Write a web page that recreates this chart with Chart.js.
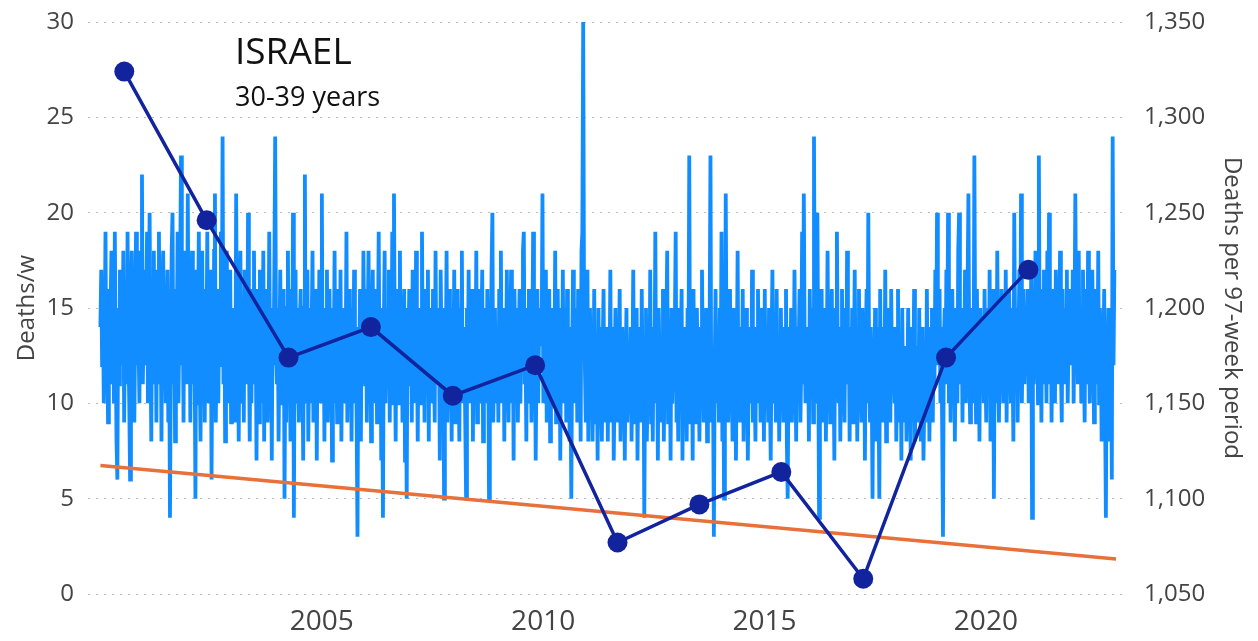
<!DOCTYPE html>
<html>
<head>
<meta charset="utf-8">
<script src="https://cdn.jsdelivr.net/npm/chart.js@4"></script>
<style>
  body { margin: 0; background: #fff; }
  #wrap { width: 1258px; height: 641px; position: relative; }
</style>
</head>
<body>
<div id="wrap"><canvas id="chart"></canvas></div>
<script>
// weekly deaths, ages 30-39, one row per ~year starting Jan 2000
const weeklyDeaths = [
  14,17,12,15,10,13,19,11,14,9,16,12,15, 18,11,14,10,19,13,8,6,15,11,17,13,16, 12,18,9,14,16,11,19,13,10,6,15,18,12, 16,9,14,19,12,17,13,10,18,15,22,11,14,
  17,12,15,19,10,14,20,13,8,16,12,18,11, 15,9,17,13,19,11,14,8,16,18,12,15,10, 13,17,9,14,4,12,18,20,11,15,8,16,13, 19,10,14,17,23,12,15,9,18,13,16,11,21,
  12,16,9,14,18,11,15,13,5,17,10,14,19, 12,8,15,18,11,14,9,16,13,19,10,15,12, 17,6,14,11,18,21,9,13,16,10,15,12,19, 13,24,11,16,8,14,18,10,15,12,17,9,14,
  15,11,13,9,21,12,16,8,14,18,10,13,15, 9,17,12,14,11,20,13,8,15,10,16,12,18, 11,14,7,16,13,9,17,12,15,10,18,8,14, 13,16,9,12,19,11,14,7,15,12,17,24,13,
  11,15,8,13,17,10,14,12,16,5,13,9,15, 18,11,14,8,16,12,20,4,13,17,10,15,12, 9,14,16,11,13,7,15,22,10,13,17,8,12, 15,10,14,18,9,13,11,16,7,14,12,17,10,
  13,21,10,15,8,14,12,17,9,13,16,11,14, 7,15,12,18,10,13,9,16,14,11,17,8,13, 15,10,14,12,19,9,13,16,11,14,8,15,12, 17,10,13,9,3,14,12,16,8,15,11,18,13,
  11,16,9,14,18,12,15,8,13,17,10,14,12, 16,9,13,19,11,15,7,12,4,14,18,10,13, 15,11,17,9,14,12,19,10,21,13,8,16,12, 14,10,18,11,15,9,13,16,7,12,5,15,13,
  16,11,14,9,17,12,15,10,18,13,8,14,12, 15,10,19,12,14,9,16,11,13,17,8,15,12, 14,10,16,13,9,18,11,15,12,14,7,17,13, 10,15,5,14,12,18,9,13,16,11,14,8,15,
  12,17,9,14,11,16,13,8,15,12,18,10,14, 13,9,5,15,12,17,10,14,11,16,8,13,15, 11,18,9,14,12,16,10,13,17,8,15,12,14, 10,16,13,5,14,11,17,20,9,12,15,10,13,
  14,9,16,12,18,10,13,15,8,14,11,17,12, 9,15,13,17,10,14,7,16,12,11,15,9,13, 16,10,14,12,18,19,11,13,8,15,12,16,10, 14,9,13,19,11,15,7,12,16,10,14,13,15,
  13,21,10,15,12,17,9,14,11,16,8,13,15, 10,14,12,18,9,13,16,11,15,7,14,12,17, 10,13,15,9,16,12,14,8,11,5,13,17,10, 15,12,14,9,16,11,13,8,18,19,30,15,12,
  9,13,17,8,12,15,10,14,8,11,16,9,13, 12,7,15,10,14,11,8,13,16,9,12,10,14, 8,13,11,17,9,12,14,7,11,15,10,13,9, 12,16,8,11,14,10,13,7,12,15,9,11,13,
  10,14,8,12,17,9,13,11,15,7,12,10,14, 9,16,11,13,4,12,15,8,11,14,10,17,9, 12,8,14,11,19,10,13,7,15,12,9,13,11, 16,8,12,10,14,18,9,11,13,7,15,10,12,
  11,14,19,9,12,8,15,10,13,16,7,12,14, 10,13,8,15,11,23,9,12,14,7,16,10,13, 9,15,11,12,8,14,10,17,12,9,13,11,15, 8,12,10,14,23,9,13,11,3,12,16,10,14,
  12,9,15,11,19,8,13,5,10,21,12,14,9, 13,16,10,12,8,15,11,14,7,12,18,10,13, 9,14,11,16,8,12,10,15,13,7,11,14,12, 10,17,9,13,11,8,14,12,16,10,13,9,15,
  11,13,8,16,10,14,12,9,15,11,7,13,17, 10,12,14,9,16,11,13,8,12,15,10,14,9, 13,11,16,8,5,12,14,10,15,9,13,11,17, 12,8,14,10,13,16,9,12,19,11,21,13,10,
  14,10,13,8,16,12,11,15,9,24,13,10,17, 20,12,4,14,11,16,9,13,10,15,8,12,18, 11,14,9,13,16,10,12,7,15,11,19,13,10, 14,8,12,16,10,13,9,15,11,18,12,14,8,
  13,10,15,9,12,17,11,14,8,13,16,10,12, 9,15,11,14,7,13,16,10,20,12,9,14,11, 5,13,10,15,8,12,14,11,5,16,10,13,9, 14,11,17,8,12,10,15,13,9,16,11,14,12,
  10,14,8,12,16,9,11,13,7,15,10,12,9, 13,8,11,15,10,12,7,14,9,11,16,8,12, 10,13,9,15,11,8,12,14,7,10,13,9,16, 11,14,8,12,10,15,9,13,11,17,12,20,14,
  12,16,10,14,9,3,13,15,11,17,12,20,10, 14,9,13,16,11,15,8,12,14,10,18,20,13, 11,15,9,14,12,17,10,13,16,21,12,9,14, 11,15,10,23,13,9,16,12,14,8,15,11,13,
  14,10,16,12,9,15,13,11,17,8,14,12,16, 5,13,15,10,18,12,9,14,11,16,13,10,15, 12,17,9,14,11,16,13,10,15,12,8,20,14, 11,15,9,13,17,12,21,10,14,16,11,13,15,
  13,16,10,14,12,17,4,15,11,13,18,12,14, 10,23,13,16,9,15,12,17,11,14,10,18,13, 20,11,15,9,14,16,12,10,17,13,15,11,14, 18,12,9,16,13,15,11,14,17,10,13,16,12,
  15,12,17,10,14,21,13,16,11,18,12,15,10, 14,17,12,9,16,13,11,18,14,10,15,12,17, 13,9,16,12,14,11,18,10,15,13,8,14,12, 16,10,4,13,11,15,8,12,14,6,24,12,17
];
const firstWeek = 2000.0;            // decimal year of first weekly value
const weekInYears = 7 / 365.25;

// totals per 97-week period (right axis), placed at decimal years
const periodYears = [2000.54, 2002.40, 2004.25, 2006.11, 2007.96, 2009.82, 2011.68, 2013.53, 2015.38, 2017.23, 2019.10, 2020.96];
const periodDeaths = [1324, 1246, 1174, 1190, 1154, 1170, 1077, 1097, 1114, 1058, 1174, 1220];

// linear trend of weekly deaths
const trendYears = [2000.0, 2022.94];
const trendValues = [6.74, 1.84];

const yearTicks = [2005, 2010, 2015, 2020];

const FONT = '"Open Sans", "Noto Sans", sans-serif';
const TEXT = '#444';

const titles = {
    id: 'titles',
    afterDraw(chart) {
        const ctx = chart.ctx;
        ctx.save();
        ctx.fillStyle = '#111';
        ctx.textBaseline = 'alphabetic';
        ctx.font = '37px ' + FONT;
        ctx.fillText('ISRAEL', 235, 64);
        ctx.font = '27px ' + FONT;
        ctx.fillText('30-39 years', 235, 106);
        ctx.restore();
    }
};

// keep the plot box fixed: no extra room for half tick labels
function noPad(s) {
    s.paddingTop = 0;
    s.paddingBottom = 0;
}

const weeklyPoints = weeklyDeaths.map((v, i) => ({ x: firstWeek + i * weekInYears, y: v }));
const periodPoints = periodYears.map((x, i) => ({ x: x, y: periodDeaths[i] }));
const trendPoints = trendYears.map((x, i) => ({ x: x, y: trendValues[i] }));

new Chart(document.getElementById('chart'), {
    type: 'line',
    data: {
        datasets: [
            {
                label: 'Deaths per 97-week period',
                data: periodPoints,
                yAxisID: 'y2',
                borderColor: '#12239E',
                backgroundColor: '#12239E',
                borderWidth: 3.5,
                pointRadius: 10,
                pointBorderWidth: 0,
                order: 0
            },
            {
                label: 'Trend',
                data: trendPoints,
                yAxisID: 'y',
                borderColor: '#E8703A',
                borderWidth: 3.5,
                pointRadius: 0,
                order: 1
            },
            {
                label: 'Deaths/w',
                data: weeklyPoints,
                yAxisID: 'y',
                borderColor: '#118DFF',
                borderWidth: 3.8,
                pointRadius: 0,
                tension: 0,
                order: 2
            }
        ]
    },
    options: {
        responsive: true,
        maintainAspectRatio: false,
        animation: false,
        layout: { padding: { top: 22, left: 0, right: 0, bottom: 0 } },
        plugins: {
            legend: { display: false },
            tooltip: { enabled: false }
        },
        scales: {
            x: {
                type: 'linear',
                min: 1999.72,
                max: 2023.21,
                afterBuildTicks: s => { s.ticks = yearTicks.map(v => ({ value: v })); },
                afterFit: s => { s.height = 47; },
                grid: { display: false },
                border: { display: false },
                ticks: {
                    autoSkip: false,
                    maxRotation: 0,
                    padding: 3,
                    color: TEXT,
                    font: { family: FONT, size: 28 },
                    callback: v => String(v)
                }
            },
            y: {
                position: 'left',
                min: 0,
                max: 30,
                afterFit: s => { s.width = 88; noPad(s); },
                grid: { color: '#bdbdbd', lineWidth: 1, drawTicks: false },
                border: { display: false, dash: [2, 6] },
                ticks: {
                    stepSize: 5,
                    padding: 14,
                    color: TEXT,
                    font: { family: FONT, size: 24 }
                },
                title: {
                    display: true,
                    text: 'Deaths/w',
                    color: TEXT,
                    font: { family: FONT, size: 24 },
                    padding: { top: 13, bottom: 0 }
                }
            },
            y2: {
                position: 'right',
                min: 1050,
                max: 1350,
                afterFit: s => { s.width = 130; noPad(s); },
                grid: { display: false, drawTicks: false },
                border: { display: false },
                ticks: {
                    stepSize: 50,
                    padding: 16,
                    color: TEXT,
                    font: { family: FONT, size: 24 },
                    callback: v => v.toLocaleString('en-US')
                },
                title: {
                    display: true,
                    text: 'Deaths per 97-week period',
                    color: TEXT,
                    font: { family: FONT, size: 24 },
                    padding: { top: 12, bottom: 0 }
                }
            }
        }
    },
    plugins: [titles]
});
</script>
</body>
</html>
